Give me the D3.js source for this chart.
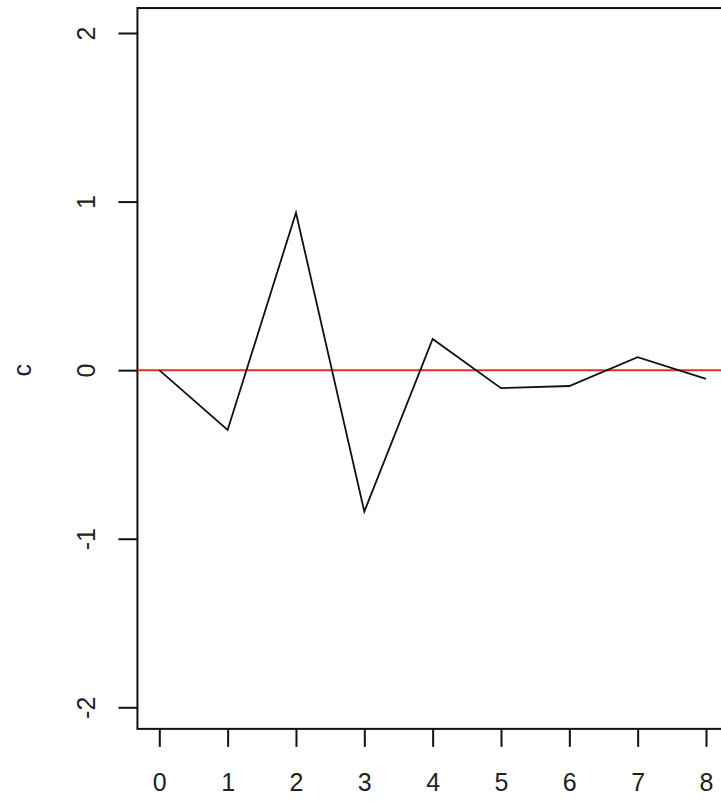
<!DOCTYPE html>
<html>
<head>
<meta charset="utf-8">
<script src="https://cdn.jsdelivr.net/npm/d3@7"></script>
<style>
  html, body { margin: 0; padding: 0; background: #fff; }
  svg { display: block; }
  text { font-family: "Liberation Sans", Arial, sans-serif; fill: #222; }
</style>
</head>
<body>
<svg id="chart" width="721" height="807"></svg>
<script>
// Lags and series values
const lags = [0, 1, 2, 3, 4, 5, 6, 7, 8];
const values = [0.0, -0.355, 0.934, -0.839, 0.185, -0.107, -0.094, 0.077, -0.052];
const xTicks = [0, 1, 2, 3, 4, 5, 6, 7, 8];
const yTicks = [-2, -1, 0, 1, 2];
const refLevel = [0];
const yLabel = "c";

const svg = d3.select("#chart");

// Scales (x runs past the right edge of the page)
const x = d3.scaleLinear().domain([0, 8]).range([159.3, 706]);
const y = d3.scaleLinear().domain([-2, 2]).range([707.3, 33]);

// Plot region: data range padded on each side
const xPad = 0.04 * 8, yPadTop = 0.148, yPadBot = 0.128;
const box = {
  x0: x(0 - xPad), x1: x(8 + xPad),
  y0: y(2 + yPadTop), y1: y(-2 - yPadBot)
};

// Frame
svg.append("rect")
  .attr("x", box.x0).attr("y", box.y0)
  .attr("width", box.x1 - box.x0).attr("height", box.y1 - box.y0)
  .attr("fill", "none").attr("stroke", "#111").attr("stroke-width", 2);

// Plain ASCII hyphen for negatives
const fmt = d => String(d);

// Y axis
const yAxis = svg.append("g").attr("transform", `translate(${box.x0},0)`)
  .call(d3.axisLeft(y).tickValues(yTicks).tickSize(19).tickPadding(0).tickFormat(fmt));
yAxis.select(".domain").remove();
yAxis.selectAll(".tick line").attr("stroke", "#111").attr("stroke-width", 2);
yAxis.selectAll(".tick text")
  .attr("x", null).attr("dy", null)
  .attr("text-anchor", "middle")
  .attr("transform", "translate(-42,0) rotate(-90)")
  .style("font-size", "25px");

// X axis
const xAxis = svg.append("g").attr("transform", `translate(0,${box.y1})`)
  .call(d3.axisBottom(x).tickValues(xTicks).tickSize(18).tickPadding(0).tickFormat(fmt));
xAxis.select(".domain").remove();
xAxis.selectAll(".tick line").attr("stroke", "#111").attr("stroke-width", 2);
xAxis.selectAll(".tick text")
  .attr("y", 62).attr("dy", null)
  .style("font-size", "25px");

// Y-axis title
svg.append("text")
  .attr("transform", `translate(31,${y(0)}) rotate(-90)`)
  .attr("text-anchor", "middle")
  .style("font-size", "25px")
  .text(yLabel);

// Clip to plot region
svg.append("clipPath").attr("id", "plotClip")
  .append("rect")
  .attr("x", box.x0).attr("y", box.y0)
  .attr("width", box.x1 - box.x0).attr("height", box.y1 - box.y0);

const plot = svg.append("g").attr("clip-path", "url(#plotClip)");

// Reference line at zero
plot.selectAll("line.ref").data(refLevel).enter().append("line")
  .attr("class", "ref")
  .attr("x1", box.x0).attr("x2", box.x1)
  .attr("y1", d => y(d)).attr("y2", d => y(d))
  .attr("stroke", "#dd3322").attr("stroke-width", 2);

// Series line
const line = d3.line().x((d, i) => x(lags[i])).y(d => y(d));
plot.append("path")
  .datum(values)
  .attr("d", line)
  .attr("fill", "none")
  .attr("stroke", "#111")
  .attr("stroke-width", 1.8)
  .attr("stroke-linejoin", "miter");
</script>
</body>
</html>
